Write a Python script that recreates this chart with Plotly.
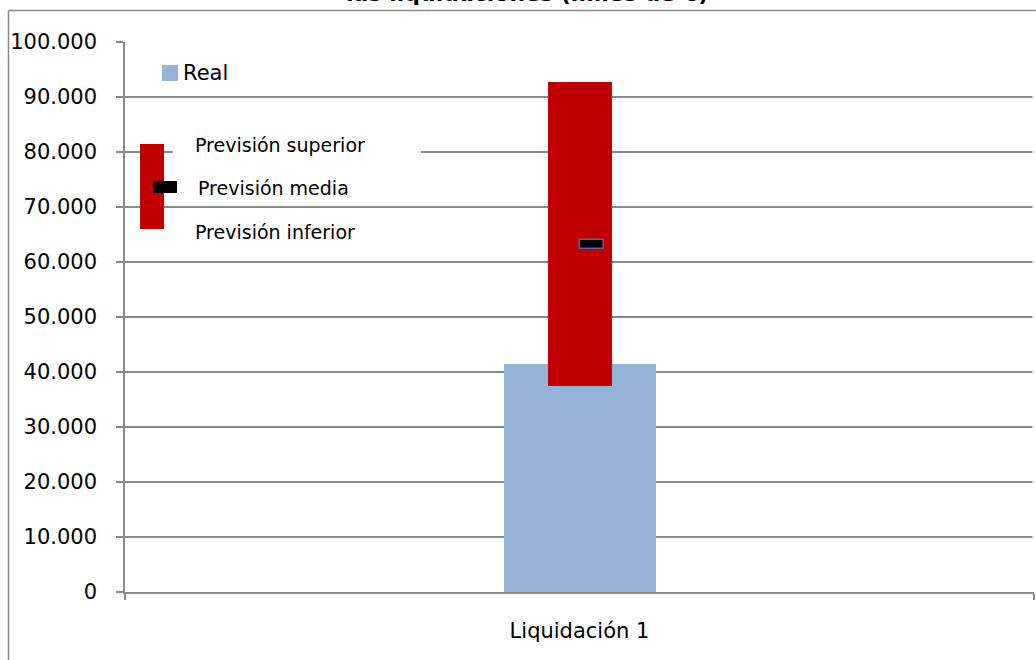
import plotly.graph_objects as go

# ---- data ----
categorias = ["Liquidación 1"]
real = [41450]
prevision_inferior = [37500]
prevision_superior = [92700]
prevision_media = [63200]
y_ticks = [0, 10000, 20000, 30000, 40000, 50000, 60000, 70000, 80000, 90000, 100000]
titulo = "las liquidaciones (miles de €)"

# ---- geometry helpers (pixel -> paper) ----
W, H = 1036, 660
ML, MR, MT, MB = 125, 2, 42, 68
PW, PH = W - ML - MR, H - MT - MB


def px(x):
    return (x - ML) / PW


def py(y):
    return 1 - (y - MT) / PH


FONT = "DejaVu Sans"
GRID = "#8a8a8a"
BLUE = "#95B3D7"
RED = "#C00000"

xs = list(range(len(categorias)))

fig = go.Figure()

fig.add_trace(go.Bar(
    x=xs, y=real, width=152 / PW, marker=dict(color=BLUE, line=dict(width=0)),
    name="Real", showlegend=False, hoverinfo="y"))

fig.add_trace(go.Bar(
    x=xs,
    y=[s - i for s, i in zip(prevision_superior, prevision_inferior)],
    base=prevision_inferior, width=64 / PW,
    marker=dict(color=RED, line=dict(width=0)),
    name="Previsión", showlegend=False))

media_h = 1500
fig.add_trace(go.Bar(
    x=xs, y=[media_h for _ in prevision_media],
    base=[m - media_h / 2 for m in prevision_media],
    width=24 / PW, offset=0,
    marker=dict(color="#000000", line=dict(color="#6A5A9E", width=1.5)),
    name="Previsión media", showlegend=False))

shapes = []
annotations = []

# outer chart border (only top and left edges are inside the picture)
shapes.append(dict(type="line", xref="paper", yref="paper",
                   x0=px(8.5), x1=px(1036), y0=py(10.5), y1=py(10.5),
                   line=dict(color=GRID, width=1.5), layer="above"))
shapes.append(dict(type="line", xref="paper", yref="paper",
                   x0=px(8.5), x1=px(8.5), y0=py(10.5), y1=py(660),
                   line=dict(color=GRID, width=1.5), layer="above"))

# keep the right edge of the plot open (no frame line there)
shapes.append(dict(type="rect", xref="paper", yref="paper",
                   x0=px(1032.5), x1=px(1040), y0=py(589), y1=py(11.5),
                   line=dict(width=0), fillcolor="white", layer="above"))

# white cover of legend picture (hides gridline)
shapes.append(dict(type="rect", xref="paper", yref="paper",
                   x0=px(173), x1=px(421), y0=py(170), y1=py(135),
                   line=dict(width=0), fillcolor="white", layer="above"))

# Real legend
shapes.append(dict(type="rect", xref="paper", yref="paper",
                   x0=px(162), x1=px(178), y0=py(81), y1=py(65),
                   line=dict(width=0), fillcolor=BLUE, layer="above"))
annotations.append(dict(text="Real", xref="paper", yref="paper", x=px(181), y=py(73),
                        xanchor="left", yanchor="middle", showarrow=False,
                        font=dict(family=FONT, size=21, color="black")))

# Previsión legend picture
shapes.append(dict(type="rect", xref="paper", yref="paper",
                   x0=px(140), x1=px(164), y0=py(229), y1=py(144),
                   line=dict(width=0), fillcolor=RED, layer="above"))
shapes.append(dict(type="rect", xref="paper", yref="paper",
                   x0=px(153), x1=px(177), y0=py(193), y1=py(181),
                   line=dict(width=0), fillcolor="black", layer="above"))
for txt, xx, yy in [("Previsión superior", 193, 145),
                    ("Previsión media", 196, 188),
                    ("Previsión inferior", 193, 232)]:
    annotations.append(dict(text=txt, xref="paper", yref="paper", x=px(xx), y=py(yy),
                            xanchor="left", yanchor="middle", showarrow=False,
                            font=dict(family=FONT, size=19, color="black")))

# title (cut off at top, as in the reference)
annotations.append(dict(text="<b>" + titulo + "</b>", xref="paper", yref="paper",
                        x=px(527), y=py(8.0), xanchor="center", yanchor="bottom",
                        showarrow=False,
                        font=dict(family=FONT, size=22, color="black")))

fig.update_layout(
    width=W, height=H,
    margin=dict(l=ML, r=MR, t=MT, b=MB, pad=0),
    paper_bgcolor="white", plot_bgcolor="white",
    barmode="overlay", bargap=0,
    separators=",.",
    showlegend=False,
    shapes=shapes, annotations=annotations,
    font=dict(family=FONT, size=21, color="black"),
    xaxis=dict(range=[-0.5, 0.5], tickmode="array", tickvals=xs, ticktext=categorias,
               showline=True, linecolor=GRID, linewidth=1.5, mirror=False,
               ticks="", showgrid=False, zeroline=False, ticklabelstandoff=19,
               minor=dict(tickmode="array", tickvals=[-0.5, 0.5], ticks="outside",
                          ticklen=6, tickcolor=GRID, tickwidth=1.5, showgrid=False),
               tickfont=dict(family=FONT, size=21, color="black")),
    yaxis=dict(range=[0, 100000], tickvals=y_ticks, tickformat=",d",
               showgrid=True, gridcolor=GRID, gridwidth=1.5, mirror=False,
               zeroline=False, showline=True, linecolor=GRID, linewidth=1.5,
               ticks="outside", ticklen=7, tickcolor=GRID, tickwidth=1.5,
               ticklabelstandoff=15,
               tickfont=dict(family=FONT, size=21, color="black")),
)

fig.write_html("out.html", config={"displayModeBar": False},
               post_script="document.body.style.margin='0';document.body.style.overflow='hidden';")
